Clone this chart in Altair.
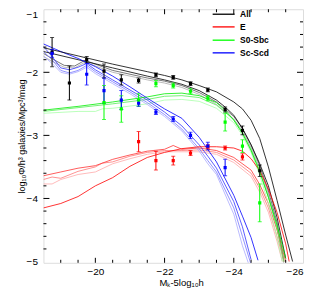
import altair as alt
import pandas as pd

TYPES = ["All", "E", "S0-Sbc", "Sc-Scd"]
TYPE_COLORS = ["#000000", "#ff0000", "#00ff00", "#0000ff"]

# ---- model curves (M_K - 5log h, log10 phi) ----
ALL0_M = [-18.5, -19.5, -20.5, -21.5, -22.0, -22.5, -23.0, -23.5, -24.0, -24.25, -24.5, -24.75, -25.0, -25.25, -25.5, -25.7]
ALL0_V = [-1.61, -1.74, -1.87, -1.99, -2.05, -2.12, -2.21, -2.31, -2.47, -2.58, -2.76, -3.05, -3.50, -4.03, -4.58, -5.00]
ALL1_M = [-18.5, -19.5, -20.5, -21.5, -22.0, -22.5, -23.0, -23.5, -23.75, -24.0, -24.25, -24.5, -24.75, -25.0, -25.25, -25.5]
ALL1_V = [-1.67, -1.80, -1.93, -2.06, -2.12, -2.19, -2.29, -2.44, -2.55, -2.68, -2.89, -3.15, -3.45, -3.80, -4.30, -4.95]
ALLT_M = [-18.5, -18.8, -19.1, -19.4, -19.7, -20.0, -20.5, -21.0, -21.5, -22.0, -22.5, -23.0, -23.5, -24.0, -24.25, -24.5, -24.75, -25.0, -25.25, -25.45]
ALL2_V = [-1.70, -1.80, -1.89, -1.90, -1.81, -1.87, -1.97, -2.03, -2.09, -2.14, -2.21, -2.32, -2.47, -2.70, -2.89, -3.15, -3.48, -3.88, -4.38, -5.00]
ALL3_V = [-1.75, -1.84, -1.92, -1.93, -1.84, -1.90, -2.00, -2.06, -2.12, -2.17, -2.24, -2.35, -2.51, -2.74, -2.93, -3.19, -3.52, -3.93, -4.45, -5.05]

E0_M = [-18.5, -19.0, -19.5, -20.0, -20.5, -21.0, -21.5, -22.0, -22.5, -23.0, -23.5, -24.0, -24.25, -24.5, -24.75, -25.0, -25.25, -25.5, -25.6]
E0_V = [-4.15, -4.08, -3.97, -3.80, -3.67, -3.49, -3.35, -3.27, -3.21, -3.18, -3.18, -3.20, -3.25, -3.37, -3.56, -3.85, -4.22, -4.72, -5.00]
E1_M = [-18.5, -19.0, -19.5, -20.0, -20.5, -21.0, -21.5, -22.0, -22.25, -22.5, -23.0, -23.5, -24.0, -24.5, -24.75, -25.0, -25.25, -25.5]
E1_V = [-3.64, -3.58, -3.52, -3.48, -3.38, -3.31, -3.25, -3.22, -3.16, -3.22, -3.20, -3.24, -3.35, -3.55, -3.78, -4.08, -4.50, -5.00]
E2_M = [-18.5, -18.75, -19.0, -19.5, -20.0, -20.2, -20.5, -21.0, -21.5, -22.0, -22.5, -23.0, -23.5, -24.0, -24.5, -24.75, -25.0, -25.25, -25.45]
E2_V = [-3.70, -3.66, -3.68, -3.57, -3.50, -3.44, -3.42, -3.33, -3.27, -3.24, -3.24, -3.23, -3.27, -3.39, -3.60, -3.84, -4.15, -4.60, -5.00]
E3_M = [-18.5, -18.75, -19.0, -19.5, -20.0, -20.5, -21.0, -21.5, -22.0, -22.5, -23.0, -23.5, -24.0, -24.5, -24.75, -25.0, -25.25, -25.4]
E3_V = [-3.77, -3.77, -3.70, -3.62, -3.58, -3.45, -3.37, -3.30, -3.26, -3.26, -3.26, -3.30, -3.43, -3.65, -3.90, -4.22, -4.68, -5.00]

S0_0_M = [-18.5, -19.5, -20.5, -21.5, -22.0, -22.5, -23.0, -23.5, -23.75, -24.0, -24.25, -24.5, -24.75, -25.0, -25.25, -25.5]
S0_0_V = [-2.60, -2.54, -2.47, -2.39, -2.34, -2.33, -2.37, -2.48, -2.60, -2.76, -2.97, -3.24, -3.58, -3.98, -4.42, -4.95]
S0_1_M = [-18.5, -19.5, -20.5, -21.5, -22.0, -22.5, -23.0, -23.5, -24.0, -24.25, -24.5, -24.75, -25.0, -25.25, -25.45]
S0_1_V = [-2.62, -2.56, -2.50, -2.43, -2.38, -2.37, -2.40, -2.52, -2.75, -2.95, -3.22, -3.56, -3.98, -4.48, -5.00]
S0_2_M = [-18.5, -19.5, -20.0, -20.2, -20.5, -21.5, -22.0, -22.5, -23.0, -23.5, -24.0, -24.25, -24.5, -24.75, -25.0, -25.25, -25.4]
S0_2_V = [-2.65, -2.62, -2.62, -2.58, -2.57, -2.50, -2.44, -2.43, -2.46, -2.57, -2.80, -3.00, -3.27, -3.63, -4.08, -4.62, -5.00]

SC0_M = [-18.5, -19.0, -19.5, -20.0, -20.5, -21.0, -21.5, -22.0, -22.5, -23.0, -23.5, -24.0, -24.25, -24.5, -24.7]
SC0_V = [-1.55, -1.67, -1.78, -1.91, -2.06, -2.23, -2.41, -2.58, -2.73, -3.03, -3.42, -3.95, -4.28, -4.62, -4.98]
SCT_M = [-18.5, -18.75, -19.0, -19.25, -19.5, -19.75, -20.0, -20.5, -21.0, -21.5, -22.0, -22.5, -23.0, -23.25, -23.5, -24.0, -24.25, -24.5]
SC1_V = [-1.59, -1.75, -1.93, -1.96, -1.92, -1.86, -1.96, -2.12, -2.28, -2.44, -2.63, -2.85, -3.15, -3.33, -3.52, -4.05, -4.45, -4.97]
SC2_V = [-1.67, -1.80, -1.97, -2.01, -1.97, -1.89, -1.99, -2.15, -2.31, -2.48, -2.67, -2.90, -3.21, -3.40, -3.58, -4.15, -4.60, -5.05]
SC3_V = [-1.74, -1.86, -2.00, -2.03, -1.99, -1.92, -2.02, -2.18, -2.34, -2.51, -2.70, -2.93, -3.25, -3.45, -3.62, -4.25, -4.75, -5.15]

# ---- measured points with symmetric errors ----
ALL_PM = [-18.75, -19.25, -19.75, -20.25, -20.75, -21.25, -21.75, -22.25, -22.75, -23.25, -23.75, -24.25, -24.75]
ALL_PV = [-1.68, -2.17, -1.80, -1.98, -2.12, -2.13, -2.04, -2.08, -2.18, -2.28, -2.59, -2.92, -3.56]
ALL_PE = [0.23, 0.27, 0.05, 0.11, 0.08, 0.04, 0.03, 0.03, 0.03, 0.03, 0.04, 0.07, 0.09]
E_PM = [-21.25, -21.75, -22.25, -22.75, -23.25, -23.75, -24.25]
E_PV = [-3.10, -3.40, -3.40, -3.28, -3.18, -3.20, -3.34]
E_PE = [0.16, 0.15, 0.07, 0.04, 0.03, 0.03, 0.05]
S0_PM = [-20.25, -20.75, -21.25, -21.75, -22.25, -22.75, -23.25, -23.75, -24.25, -24.75]
S0_PV = [-2.48, -2.58, -2.44, -2.18, -2.21, -2.30, -2.41, -2.79, -3.17, -4.07]
S0_PE = [0.27, 0.21, 0.10, 0.05, 0.04, 0.04, 0.04, 0.14, 0.10, 0.30]
SC_PM = [-18.75, -19.75, -20.25, -20.75, -21.25, -21.75, -22.25, -22.75, -23.25, -23.75]
SC_PV = [-1.70, -2.03, -2.29, -2.44, -2.49, -2.63, -2.74, -3.00, -3.17, -3.51]
SC_PE = [0.06, 0.17, 0.20, 0.15, 0.05, 0.04, 0.04, 0.05, 0.06, 0.13]

X_LABELS = [-20, -22, -24, -26]
X_MINOR = [-19, -19.5, -20.5, -21, -21.5, -22.5, -23, -23.5, -24.5, -25, -25.5]
Y_LABELS = [-1, -2, -3, -4, -5]
Y_MINOR = [-1.2, -1.4, -1.6, -1.8, -2.2, -2.4, -2.6, -2.8, -3.2, -3.4, -3.6, -3.8, -4.2, -4.4, -4.6, -4.8]

# ---- styles ----
CURVES = [
    ("All-3", ALLT_M, ALL3_V, "#aaaaaa", 0.8),
    ("All-2", ALLT_M, ALL2_V, "#555555", 0.8),
    ("E-3", E3_M, E3_V, "#ffaaaa", 0.8),
    ("E-2", E2_M, E2_V, "#ff7777", 0.8),
    ("E-1", E1_M, E1_V, "#ff3333", 0.9),
    ("S0-2", S0_2_M, S0_2_V, "#aaffaa", 0.8),
    ("S0-1", S0_1_M, S0_1_V, "#55ee55", 0.9),
    ("SC-3", SCT_M, SC3_V, "#aaaaff", 0.8),
    ("SC-2", SCT_M, SC2_V, "#7777ff", 0.8),
    ("SC-1", SCT_M, SC1_V, "#3333ff", 0.9),
    ("All-1", ALL1_M, ALL1_V, "#000000", 1.3),
    ("E-0", E0_M, E0_V, "#ff0000", 1.7),
    ("S0-0", S0_0_M, S0_0_V, "#00ee00", 1.7),
    ("SC-0", SC0_M, SC0_V, "#0000ff", 1.7),
    ("All-0", ALL0_M, ALL0_V, "#000000", 1.7),
]

rows = []
for k, (cid, ms, vs, col, w) in enumerate(CURVES):
    for i, (m, v) in enumerate(zip(ms, vs)):
        rows.append({"cid": cid, "M": m, "v": v, "i": i, "k": k})
df_curves = pd.DataFrame(rows)

prow = []
for t, ms, vs, es in [("All", ALL_PM, ALL_PV, ALL_PE), ("E", E_PM, E_PV, E_PE),
                      ("S0-Sbc", S0_PM, S0_PV, S0_PE), ("Sc-Scd", SC_PM, SC_PV, SC_PE)]:
    for m, v, e in zip(ms, vs, es):
        prow.append({"type": t, "M": m, "v": v, "lo": v - e, "hi": v + e})
df_pts = pd.DataFrame(prow)

W, H = 260, 254
FONT = "Liberation Sans"
XS = alt.Scale(domain=[-18.5, -26], nice=False, zero=False)
YS = alt.Scale(domain=[-5.02, -1], nice=False, zero=False)
XAX = alt.Axis(values=X_LABELS, format="d", ticks=False, domain=False, grid=False,
               labelFontSize=10, labelFont=FONT, labelColor="black", labelPadding=4,
               labelFlush=True, title="Mₖ-5log₁₀h", titleFont=FONT, titleFontSize=9.5,
               titleFontWeight="normal", titleColor="black", titleX=138, titleY=19.5,
               titleBaseline="middle", titleAlign="center")
YAX = alt.Axis(values=Y_LABELS, format="d", ticks=False, domain=False, grid=False,
               labelFontSize=10, labelFont=FONT, labelColor="black", labelPadding=6,
               labelFlush=0.5, title="log₁₀Φ/h³ galaxies/Mpc³/mag", titleFont=FONT,
               titleFontSize=9, titleFontWeight="normal", titleColor="black",
               titleX=-22, titleY=H / 2, titleBaseline="middle", titleAlign="center",
               titleAngle=270)


def X(f):
    return alt.X(f, type="quantitative", scale=XS, axis=XAX)


def Y(f):
    return alt.Y(f, type="quantitative", scale=YS, axis=YAX)


cids = [c[0] for c in CURVES]
curve_layer = alt.Chart(df_curves).mark_line(clip=True).encode(
    x=X("M"), y=Y("v"),
    color=alt.Color("cid:N", scale=alt.Scale(domain=cids, range=[c[3] for c in CURVES]), legend=None),
    strokeWidth=alt.StrokeWidth("cid:N", scale=alt.Scale(domain=cids, range=[c[4] for c in CURVES]), legend=None),
    order=alt.Order("i:Q"),
    detail="k:N",
)

pcol = alt.Color("type:N", scale=alt.Scale(domain=TYPES, range=TYPE_COLORS), legend=None)
pbase = alt.Chart(df_pts)
bars = pbase.mark_rule(strokeWidth=1, clip=True).encode(x=X("M"), y=Y("lo"), y2="hi", color=pcol)
cap_lo = pbase.mark_tick(orient="horizontal", size=4, thickness=1, clip=True).encode(x=X("M"), y=Y("lo"), color=pcol)
cap_hi = pbase.mark_tick(orient="horizontal", size=4, thickness=1, clip=True).encode(x=X("M"), y=Y("hi"), color=pcol)
marks = pbase.mark_square(size=10, opacity=1, clip=True).encode(x=X("M"), y=Y("v"), color=pcol)

# inward ticks
def xt(vals, y0, y1):
    return alt.Chart(pd.DataFrame({"t": vals})).mark_rule(color="black", strokeWidth=1).encode(
        x=X("t"), y=alt.value(y0), y2=alt.value(y1))


def yt(vals, x0, x1):
    return alt.Chart(pd.DataFrame({"t": vals})).mark_rule(color="black", strokeWidth=1).encode(
        y=Y("t"), x=alt.value(x0), x2=alt.value(x1))


XMAJ = X_LABELS[:-1]
YMAJ = Y_LABELS[1:-1]
ticks = [
    xt(XMAJ, H, H - 5), xt(X_MINOR, H, H - 3), xt(XMAJ, 0, 5), xt(X_MINOR, 0, 3),
    yt(YMAJ, 0, 6), yt(Y_MINOR, 0, 3), yt(YMAJ, W, W - 6), yt(Y_MINOR, W, W - 3),
]

# legend (drawn manually, top right)
LEG_Y = [5, 17.7, 31, 43.7]
leg_layers = []
for t, c, ly in zip(TYPES, TYPE_COLORS, LEG_Y):
    d = pd.DataFrame({"label": [t]})
    leg_layers.append(alt.Chart(d).mark_rule(color=c, strokeWidth=1.3).encode(
        x=alt.value(169.5), x2=alt.value(191.5), y=alt.value(ly)))
    leg_layers.append(alt.Chart(d).mark_text(align="left", baseline="middle", font=FONT,
                                             fontSize=8.5, fontWeight="bold", color="black").encode(
        x=alt.value(197), y=alt.value(ly), text="label:N"))

chart = alt.layer(
    curve_layer, bars, cap_lo, cap_hi, marks, *ticks, *leg_layers
).resolve_scale(color="independent", strokeWidth="independent").properties(
    width=W, height=H,
    autosize=alt.AutoSizeParams(type="none"),
    padding={"left": 35.5, "top": 1, "right": 3, "bottom": 25},
).configure_view(stroke="black", strokeWidth=1).configure(background="white")

chart.save("out.html", embed_options={"renderer": "svg", "actions": False})
